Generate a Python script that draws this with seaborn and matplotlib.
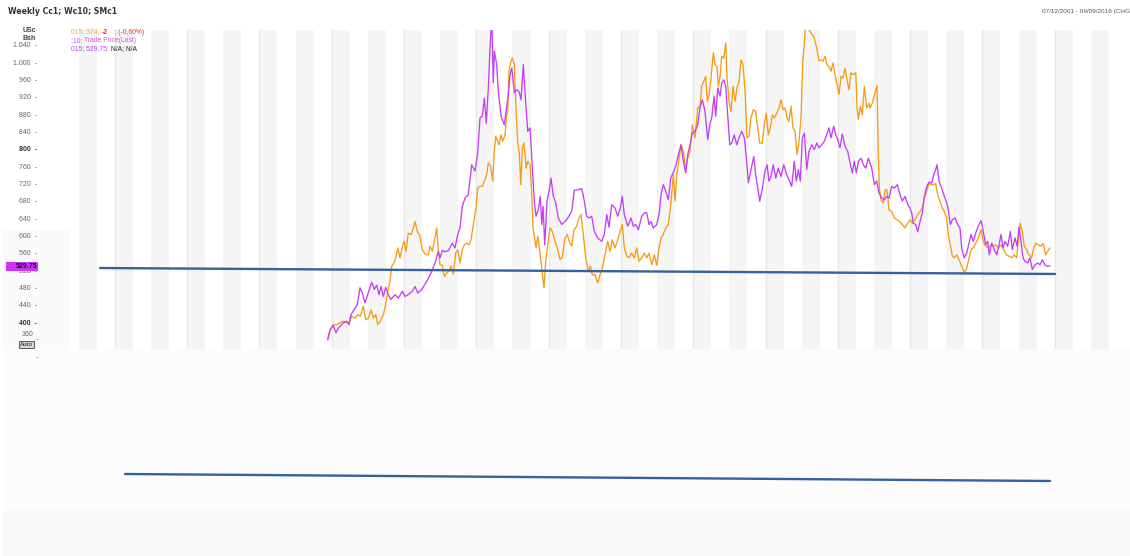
import matplotlib
matplotlib.use("Agg")
import matplotlib.pyplot as plt
import seaborn as sns
import pandas as pd
from matplotlib.patches import Rectangle

# ---------------- data ----------------
# purple series (SMc1 / Trade Price(Last)), x in decimal years
PURPLE_T = [
    2005.945, 2005.976, 2006.022, 2006.059, 2006.091, 2006.160, 2006.207, 2006.239, 2006.267, 2006.322,
    2006.354, 2006.391, 2006.423, 2006.461, 2006.498, 2006.553, 2006.589, 2006.622, 2006.654, 2006.682,
    2006.714, 2006.747, 2006.783, 2006.816, 2006.876, 2006.921, 2006.976, 2007.014, 2007.059, 2007.115,
    2007.152, 2007.189, 2007.245, 2007.314, 2007.373, 2007.429, 2007.474, 2007.498, 2007.530, 2007.567,
    2007.613, 2007.668, 2007.705, 2007.743, 2007.775, 2007.806, 2007.844, 2007.889, 2007.936, 2007.982,
    2008.019, 2008.051, 2008.083, 2008.111, 2008.138, 2008.166, 2008.189, 2008.213, 2008.235, 2008.249,
    2008.282, 2008.304, 2008.342, 2008.387, 2008.443, 2008.466, 2008.490, 2008.526, 2008.559, 2008.591,
    2008.618, 2008.650, 2008.683, 2008.711, 2008.743, 2008.775, 2008.802, 2008.826, 2008.858, 2008.885,
    2008.905, 2008.923, 2008.946, 2008.978, 2009.006, 2009.033, 2009.065, 2009.098, 2009.134, 2009.181,
    2009.227, 2009.273, 2009.320, 2009.355, 2009.402, 2009.458, 2009.494, 2009.527, 2009.559, 2009.596,
    2009.632, 2009.679, 2009.734, 2009.770, 2009.804, 2009.835, 2009.873, 2009.918, 2009.956, 2009.992,
    2010.019, 2010.047, 2010.094, 2010.140, 2010.172, 2010.205, 2010.241, 2010.288, 2010.324, 2010.357,
    2010.389, 2010.416, 2010.448, 2010.495, 2010.527, 2010.555, 2010.586, 2010.620, 2010.656, 2010.689,
    2010.721, 2010.758, 2010.794, 2010.831, 2010.863, 2010.896, 2010.924, 2010.956, 2010.988, 2011.025,
    2011.062, 2011.094, 2011.126, 2011.163, 2011.201, 2011.232, 2011.256, 2011.288, 2011.311, 2011.339,
    2011.371, 2011.394, 2011.422, 2011.450, 2011.477, 2011.505, 2011.533, 2011.568, 2011.602, 2011.633,
    2011.671, 2011.707, 2011.740, 2011.762, 2011.799, 2011.837, 2011.864, 2011.892, 2011.920, 2011.956,
    2011.993, 2012.021, 2012.048, 2012.076, 2012.108, 2012.141, 2012.177, 2012.214, 2012.252, 2012.293,
    2012.325, 2012.362, 2012.398, 2012.426, 2012.454, 2012.481, 2012.509, 2012.537, 2012.570, 2012.602,
    2012.639, 2012.675, 2012.708, 2012.740, 2012.777, 2012.813, 2012.846, 2012.878, 2012.906, 2012.943,
    2012.971, 2012.999, 2013.030, 2013.062, 2013.100, 2013.137, 2013.169, 2013.201, 2013.228, 2013.256,
    2013.284, 2013.321, 2013.353, 2013.386, 2013.422, 2013.469, 2013.505, 2013.538, 2013.570, 2013.607,
    2013.643, 2013.676, 2013.708, 2013.745, 2013.782, 2013.823, 2013.860, 2013.892, 2013.930, 2013.967,
    2013.999, 2014.022, 2014.044, 2014.077, 2014.105, 2014.137, 2014.169, 2014.196, 2014.230, 2014.261,
    2014.299, 2014.326, 2014.354, 2014.372, 2014.400, 2014.437, 2014.473, 2014.506, 2014.528, 2014.556,
    2014.584, 2014.621, 2014.658, 2014.690, 2014.713, 2014.749, 2014.782, 2014.815, 2014.842, 2014.874,
    2014.907, 2014.943, 2014.981, 2015.012, 2015.046, 2015.073, 2015.095, 2015.129, 2015.165, 2015.198,
    2015.230, 2015.257, 2015.285, 2015.313, 2015.350, 2015.386, 2015.413, 2015.451, 2015.479, 2015.506,
    2015.534, 2015.562, 2015.589, 2015.627, 2015.658, 2015.690, 2015.727, 2015.765, 2015.797, 2015.829,
    2015.866, 2015.903, 2015.935,
]
PURPLE_V = [
    359, 382, 392, 375, 386, 398, 402, 394, 417, 432,
    440, 479, 467, 444, 463, 492, 475, 485, 463, 482,
    459, 480, 463, 452, 463, 455, 471, 459, 463, 471,
    482, 467, 475, 494, 513, 536, 563, 548, 565, 562,
    565, 582, 571, 602, 617, 667, 686, 694, 763, 748,
    790, 871, 875, 917, 859, 940, 1032, 1100, 952, 1025,
    994, 932, 875, 855, 925, 971, 986, 929, 936, 932,
    913, 994, 905, 840, 848, 755, 679, 644, 659, 690,
    625, 667, 578, 679, 702, 732, 690, 675, 640, 625,
    632, 642, 656, 704, 705, 708, 679, 644, 640, 644,
    609, 594, 586, 602, 648, 619, 671, 663, 644, 663,
    690, 648, 621, 640, 621, 625, 613, 644, 652, 652,
    625, 632, 617, 625, 648, 694, 717, 702, 682, 732,
    744, 759, 786, 809, 771, 744, 786, 809, 836, 840,
    855, 894, 913, 886, 821, 859, 871, 921, 875, 940,
    921, 952, 959, 944, 878, 809, 813, 832, 809, 825,
    840, 825, 771, 721, 752, 782, 740, 709, 679, 709,
    748, 763, 725, 736, 763, 732, 755, 736, 763, 740,
    728, 713, 771, 725, 752, 725, 825, 836, 752, 794,
    809, 798, 813, 802, 809, 817, 832, 848, 825, 852,
    832, 821, 802, 834, 805, 794, 767, 744, 771, 744,
    771, 778, 763, 755, 778, 755, 717, 725, 698, 686,
    682, 690, 686, 713, 709, 717, 694, 679, 690, 671,
    663, 652, 628, 625, 608, 632, 652, 690, 713, 723,
    721, 740, 752, 763, 725, 709, 690, 675, 659, 625,
    636, 640, 625, 617, 571, 548, 559, 582, 602, 586,
    605, 621, 634, 609, 578, 586, 555, 582, 567, 555,
    578, 602, 571, 586, 575, 609, 567, 594, 575, 619,
    586, 548, 540, 536, 548, 521, 532, 536, 532, 544,
    531, 529, 529.75,
]

# orange series (Cc1)
ORANGE_T = [
    2005.945, 2005.976, 2006.022, 2006.069, 2006.115, 2006.160, 2006.207, 2006.239, 2006.277, 2006.322,
    2006.359, 2006.396, 2006.437, 2006.470, 2006.506, 2006.544, 2006.575, 2006.609, 2006.636, 2006.672,
    2006.714, 2006.747, 2006.775, 2006.806, 2006.830, 2006.858, 2006.885, 2006.913, 2006.945, 2006.968,
    2007.000, 2007.028, 2007.059, 2007.097, 2007.129, 2007.152, 2007.184, 2007.221, 2007.253, 2007.290,
    2007.336, 2007.360, 2007.391, 2007.419, 2007.452, 2007.474, 2007.498, 2007.530, 2007.557, 2007.591,
    2007.622, 2007.650, 2007.682, 2007.715, 2007.743, 2007.775, 2007.806, 2007.834, 2007.867, 2007.899,
    2007.927, 2007.959, 2007.992, 2008.019, 2008.051, 2008.083, 2008.111, 2008.144, 2008.166, 2008.199,
    2008.227, 2008.249, 2008.268, 2008.296, 2008.314, 2008.342, 2008.365, 2008.397, 2008.420, 2008.434,
    2008.452, 2008.480, 2008.498, 2008.526, 2008.546, 2008.573, 2008.595, 2008.615, 2008.637, 2008.656,
    2008.674, 2008.688, 2008.711, 2008.743, 2008.766, 2008.784, 2008.802, 2008.826, 2008.849, 2008.871,
    2008.894, 2008.936, 2008.960, 2008.988, 2009.019, 2009.051, 2009.089, 2009.126, 2009.158, 2009.189,
    2009.227, 2009.259, 2009.286, 2009.320, 2009.351, 2009.389, 2009.420, 2009.448, 2009.480, 2009.513,
    2009.549, 2009.577, 2009.604, 2009.642, 2009.679, 2009.711, 2009.743, 2009.780, 2009.817, 2009.849,
    2009.881, 2009.918, 2009.950, 2009.988, 2010.019, 2010.047, 2010.080, 2010.112, 2010.149, 2010.185,
    2010.219, 2010.250, 2010.288, 2010.324, 2010.357, 2010.389, 2010.426, 2010.462, 2010.495, 2010.527,
    2010.555, 2010.586, 2010.620, 2010.656, 2010.689, 2010.725, 2010.749, 2010.772, 2010.794, 2010.831,
    2010.863, 2010.896, 2010.924, 2010.956, 2010.988, 2011.025, 2011.062, 2011.094, 2011.118, 2011.145,
    2011.173, 2011.195, 2011.223, 2011.246, 2011.278, 2011.302, 2011.329, 2011.347, 2011.371, 2011.394,
    2011.422, 2011.450, 2011.468, 2011.495, 2011.523, 2011.551, 2011.578, 2011.606, 2011.633, 2011.661,
    2011.689, 2011.717, 2011.744, 2011.772, 2011.799, 2011.831, 2011.864, 2011.892, 2011.920, 2011.956,
    2011.983, 2012.011, 2012.039, 2012.066, 2012.094, 2012.122, 2012.155, 2012.187, 2012.214, 2012.242,
    2012.270, 2012.297, 2012.325, 2012.353, 2012.380, 2012.408, 2012.436, 2012.463, 2012.491, 2012.515,
    2012.537, 2012.556, 2012.584, 2012.616, 2012.647, 2012.675, 2012.708, 2012.740, 2012.768, 2012.795,
    2012.823, 2012.851, 2012.878, 2012.906, 2012.934, 2012.961, 2012.989, 2013.017, 2013.044, 2013.072,
    2013.100, 2013.127, 2013.155, 2013.183, 2013.214, 2013.248, 2013.266, 2013.283, 2013.311, 2013.339,
    2013.367, 2013.400, 2013.432, 2013.446, 2013.477, 2013.515, 2013.542, 2013.560, 2013.574, 2013.597,
    2013.629, 2013.653, 2013.680, 2013.708, 2013.745, 2013.782, 2013.819, 2013.856, 2013.892, 2013.930,
    2013.967, 2013.999, 2014.031, 2014.068, 2014.105, 2014.137, 2014.169, 2014.196, 2014.230, 2014.261,
    2014.289, 2014.321, 2014.354, 2014.382, 2014.413, 2014.445, 2014.473, 2014.506, 2014.528, 2014.556,
    2014.584, 2014.611, 2014.645, 2014.676, 2014.713, 2014.749, 2014.777, 2014.805, 2014.842, 2014.874,
    2014.907, 2014.943, 2014.981, 2015.012, 2015.046, 2015.082, 2015.119, 2015.151, 2015.184, 2015.220,
    2015.257, 2015.295, 2015.331, 2015.368, 2015.405, 2015.441, 2015.474, 2015.496, 2015.524, 2015.552,
    2015.579, 2015.612, 2015.644, 2015.681, 2015.703, 2015.735, 2015.771, 2015.809, 2015.841, 2015.873,
    2015.901, 2015.935,
]
ORANGE_V = [
    359, 382, 394, 394, 398, 402, 398, 398, 413, 409,
    417, 413, 436, 405, 409, 428, 409, 417, 394, 402,
    417, 440, 471, 494, 529, 536, 548, 571, 548, 567,
    586, 563, 605, 602, 617, 632, 609, 598, 567, 557,
    555, 575, 563, 586, 617, 567, 532, 531, 505, 513,
    518, 529, 511, 559, 567, 536, 567, 578, 582, 578,
    590, 625, 659, 709, 713, 713, 725, 740, 767, 759,
    725, 794, 829, 817, 809, 832, 817, 832, 878, 886,
    979, 1002, 1009, 994, 901, 813, 790, 717, 802, 813,
    786, 755, 771, 763, 702, 617, 598, 571, 598, 571,
    540, 479, 540, 578, 617, 609, 586, 567, 544, 548,
    594, 602, 586, 575, 613, 621, 640, 648, 602, 548,
    517, 529, 509, 509, 490, 509, 525, 555, 586, 563,
    590, 571, 586, 609, 625, 571, 552, 548, 559, 548,
    571, 540, 548, 559, 548, 559, 532, 555, 531, 571,
    594, 602, 617, 625, 671, 740, 679, 740, 763, 809,
    794, 752, 778, 794, 855, 825, 894, 898, 944, 955,
    967, 909, 929, 963, 1021, 994, 990, 944, 967, 1013,
    1009, 1044, 963, 909, 886, 944, 909, 940, 955, 1005,
    994, 932, 825, 829, 871, 890, 886, 848, 813, 813,
    855, 882, 832, 848, 878, 871, 882, 894, 913, 890,
    894, 871, 863, 898, 848, 840, 786, 817, 871, 1002,
    1040, 1090, 1080, 1070, 1063, 1055, 1032, 1002, 1005, 1002,
    1013, 994, 990, 979, 998, 971, 948, 925, 967, 963,
    986, 959, 936, 975, 971, 975, 894, 867, 898, 878,
    944, 894, 905, 894, 905, 929, 946, 786, 709, 682,
    675, 705, 705, 659, 655, 640, 636, 632, 625, 617,
    628, 636, 628, 636, 648, 655, 663, 686, 702, 721,
    717, 717, 719, 694, 679, 663, 655, 640, 602, 578,
    552, 548, 555, 544, 529, 515, 521, 540, 567, 571,
    582, 594, 613, 586, 575, 571, 578, 575, 578, 571,
    578, 567, 555, 552, 548, 555, 548, 586, 628, 609,
    575, 567, 555, 548, 567, 582, 578, 575, 582, 555,
    563, 571,
]

# trend lines (start / end)
TREND_UP_T = [2002.795, 2016.004]
TREND_UP_V = [524.6, 510.8]
TREND_LOW_T = [2003.141, 2015.935]
TREND_LOW_V = [36, 29]

Y_TICKS = [400, 440, 480, 520, 560, 600, 640, 680, 720, 760, 800,
           840, 880, 920, 960, 1000, 1040]
Y_LABELS = ["400", "440", "480", "520", "560", "600", "640", "680", "720",
            "760", "800", "840", "880", "920", "960", "1.000", "1.040"]
BOLD_TICKS = [400, 800]
LOW_TICK_LABEL = "360"
STRIPE_YEARS = list(range(2002, 2017))

# ---------------- figure ----------------
sns.set_theme(style="white")
plt.rcParams['font.family'] = ['DejaVu Sans']

W, H = 1130, 556
fig = plt.figure(figsize=(W / 100, H / 100), dpi=100)
fig.patch.set_facecolor('white')


def fx(px):
    return px / W


def fy(py):
    return 1 - py / H


def frect(x0, y0, x1, y1, color, z=-1):
    fig.patches.append(Rectangle((fx(x0), fy(y1)), (x1 - x0) / W, (y1 - y0) / H,
                                 transform=fig.transFigure, facecolor=color,
                                 edgecolor='none', zorder=z))


# faint background regions (behind everything)
frect(3, 349, 1130, 510, '#fcfcfc')
frect(3, 510, 1130, 556, '#f9f9f9')
frect(3, 230, 70, 349, '#fafafa')

X0, X1 = 2002.380, 2016.903

ax = fig.add_axes([fx(70), fy(349), 1050 / W, 319 / H])
ax.set_facecolor('white')
ax.set_xlim(X0, X1)
ax.set_ylim(337.7, 1073.9)

# quarter stripes + year grid lines
for yr in STRIPE_YEARS:
    ax.axvspan(yr, yr + 0.25, color='#f5f5f5', lw=0, zorder=0)
    ax.axvspan(yr + 0.5, yr + 0.75, color='#f5f5f5', lw=0, zorder=0)
    ax.axvline(yr, color='#e6e6e6', lw=1.0, zorder=0.5)

df_o = pd.DataFrame({'t': ORANGE_T, 'price': ORANGE_V})
df_p = pd.DataFrame({'t': PURPLE_T, 'price': PURPLE_V})
df_tu = pd.DataFrame({'t': TREND_UP_T, 'price': TREND_UP_V})

sns.lineplot(data=df_o, x='t', y='price', ax=ax, color='#f79b14', lw=0.95,
             estimator=None, sort=False, legend=False, zorder=3)
sns.lineplot(data=df_p, x='t', y='price', ax=ax, color='#c53ef5', lw=0.95,
             estimator=None, sort=False, legend=False, zorder=4)
sns.lineplot(data=df_tu, x='t', y='price', ax=ax, color='#3461a0', lw=1.7,
             estimator=None, sort=False, legend=False, zorder=5)

ax.set_xlabel('')
ax.set_ylabel('')
ax.set_xticks([])
ax.set_yticks(Y_TICKS)
ax.set_yticklabels([lab + "  -" for lab in Y_LABELS])
ax.tick_params(axis='y', length=0, pad=23.5, labelsize=5.0, labelcolor='#666666')
for tk, lab in zip(Y_TICKS, ax.get_yticklabels()):
    lab.set_fontfamily('Liberation Sans')
    if tk in BOLD_TICKS:
        lab.set_fontweight('bold')
        lab.set_color('#333333')
for s in ax.spines.values():
    s.set_visible(False)

# lower panel
ax2 = fig.add_axes([fx(70), fy(510), 1050 / W, 161 / H])
ax2.set_facecolor('none')
ax2.set_xlim(X0, X1)
ax2.set_ylim(0, 161)
df_tl = pd.DataFrame({'t': TREND_LOW_T, 'v': TREND_LOW_V})
sns.lineplot(data=df_tl, x='t', y='v', ax=ax2, color='#3461a0', lw=1.7,
             estimator=None, sort=False, legend=False)
ax2.set_xlabel('')
ax2.set_ylabel('')
ax2.set_xticks([])
ax2.set_yticks([])
for s in ax2.spines.values():
    s.set_visible(False)

# ---------------- texts ----------------
fig.text(fx(8), fy(12), "Weekly Cc1; Wc10; SMc1", fontsize=5.6, fontweight='bold',
         color='#333333', ha='left', va='center')
fig.text(fx(1042), fy(12), "07/12/2001 - 09/09/2016 (CHG)", fontsize=4.6,
         color='#555555', ha='left', va='center', family='Liberation Sans')
fig.text(fx(29), fy(31), "USc", fontsize=5.0, fontweight='bold', color='#444444',
         ha='center', va='center', family='Liberation Sans')
fig.text(fx(29), fy(38.5), "Bsh", fontsize=5.0, fontweight='bold', color='#444444',
         ha='center', va='center', family='Liberation Sans')

renderer = fig.canvas.get_renderer()


def pieces(x_px, y_px, parts, size=4.9):
    x = x_px
    for s, c, w in parts:
        t = fig.text(fx(x), fy(y_px), s, color=c, fontsize=size, fontweight=w,
                     ha='left', va='center', family='Liberation Sans')
        x += t.get_window_extent(renderer=renderer).width


pieces(71, 32, [("015; 374; ", '#f5a623', 'normal'), ("-2", '#ff2a2a', 'bold'),
                ("    ; (-0,60%)", '#ff2a2a', 'normal')])
pieces(71, 40.5, [(":10; ", '#cc55ff', 'normal'), ("Trade Price(Last)", '#dd55dd', 'normal')])
pieces(71, 49, [("015; 529,75; ", '#bb44ee', 'normal'), ("N/A; N/A", '#222222', 'normal')])

# last price box
frect(6, 262, 38, 270.5, '#cc33f5', z=5)
fig.text(fx(37.5), fy(266.3), "529.75", fontsize=5.0, fontweight='bold', color='#111111',
         ha='right', va='center', zorder=6, family='Liberation Sans')

# 360 label (lifted above the Auto button), Auto button and extra ticks
fig.text(fx(33), fy(334.5), LOW_TICK_LABEL, fontsize=5.0, color='#666666', ha='right',
         va='center', family='Liberation Sans')
fig.text(fx(36.5), fy(339), "-", fontsize=5.0, color='#555555', ha='center', va='center')
fig.text(fx(26.5), fy(344.5), "Auto", fontsize=4.6, color='#222222', ha='center', va='center',
         family='Liberation Sans',
         bbox=dict(boxstyle='square,pad=0.12', fc='#d6d6d6', ec='#444444', lw=0.6))
fig.text(fx(36.5), fy(357), "-", fontsize=5.0, color='#555555', ha='center', va='center')

fig.savefig("out.png", dpi=100)
